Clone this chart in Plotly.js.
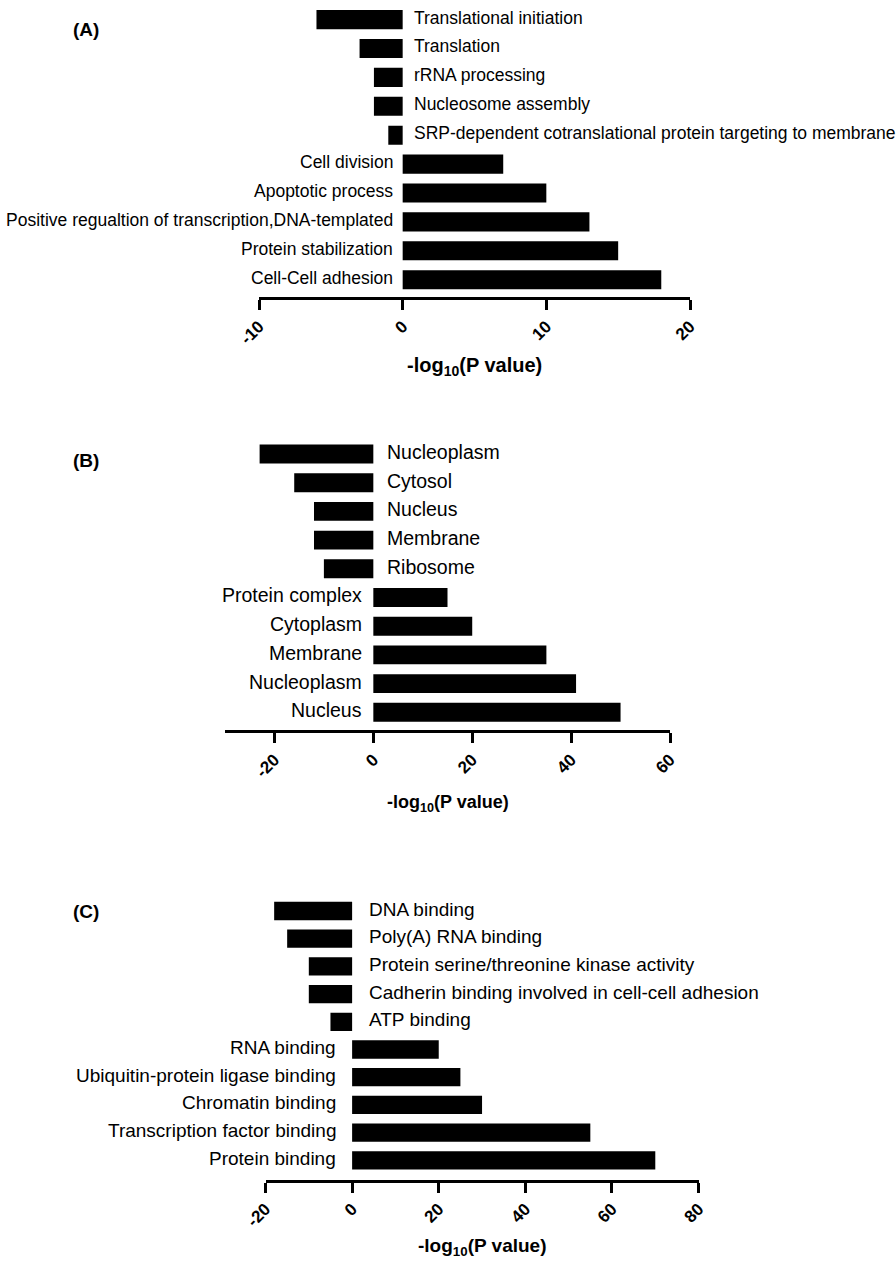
<!DOCTYPE html>
<html><head><meta charset="utf-8">
<script src="https://cdn.plot.ly/plotly-3.0.1.min.js"></script>
<style>html,body{margin:0;padding:0;background:#fff}</style>
</head><body><div id="chart" style="width:896px;height:1262px"></div>
<script>
// ---------- DATA ----------
const catsA = ["Translational initiation","Translation","rRNA processing","Nucleosome assembly",
  "SRP-dependent cotranslational protein targeting to membrane","Cell division","Apoptotic process",
  "Positive regualtion of transcription,DNA-templated","Protein stabilization","Cell-Cell adhesion"];
const valsA = [-6,-3,-2,-2,-1,7,10,13,15,18];
const ticksA = [-10,0,10,20];

const catsB = ["Nucleoplasm","Cytosol","Nucleus","Membrane","Ribosome",
  "Protein complex","Cytoplasm","Membrane","Nucleoplasm","Nucleus"];
const valsB = [-23,-16,-12,-12,-10,15,20,35,41,50];
const ticksB = [-20,0,20,40,60];

const catsC = ["DNA binding","Poly(A) RNA binding","Protein serine/threonine kinase activity",
  "Cadherin binding involved in cell-cell adhesion","ATP binding","RNA binding",
  "Ubiquitin-protein ligase binding","Chromatin binding","Transcription factor binding","Protein binding"];
const valsC = [-18,-15,-10,-10,-5,20,25,30,55,70];
const ticksC = [-20,0,20,40,60,80];

const panelLabels = ["(A)","(B)","(C)"];
const axisTitle = "-log<sub>10</sub>(P value)";

// ---------- LAYOUT (pixel targets) ----------
const W = 896, H = 1262;
const FONT = "Liberation Sans, Arial, Helvetica, sans-serif";
const panels = [
  {cats:catsA, vals:valsA, ticks:ticksA, range:[-10,20], xpx:[259,690], first:19.6, step:28.9, axisY:298.5,
   gapNeg:9, gapPos:8, fsize:17.5, titleY:367, titleSize:20, labelY:30},
  {cats:catsB, vals:valsB, ticks:ticksB, range:[-30,60], xpx:[225,670], first:454, step:28.7, axisY:731.7,
   gapNeg:12, gapPos:9.5, fsize:19.5, titleY:803, titleSize:18, labelY:460},
  {cats:catsC, vals:valsC, ticks:ticksC, range:[-20,80], xpx:[265.5,698.6], first:911, step:27.7, axisY:1181,
   gapNeg:15, gapPos:14, fsize:19, titleY:1247, titleSize:19, labelY:911}
];

const data = [];
const layout = {
  width: W, height: H, margin:{l:0,r:0,t:0,b:0,pad:0},
  paper_bgcolor:"#fff", plot_bgcolor:"rgba(0,0,0,0)",
  showlegend:false, hovermode:false,
  font:{family:FONT, color:"#000"},
  annotations:[]
};
const py = p => 1 - p / H;

panels.forEach((P, k) => {
  const sfx = k === 0 ? "" : String(k+1);
  const xa = "x"+sfx, ya = "y"+sfx;
  const idx = P.cats.map((c,i) => i);
  data.push({
    type:"bar", orientation:"h", x:P.vals, y:idx, xaxis:xa, yaxis:ya,
    width:0.66, marker:{color:"#000", line:{width:0}}
  });
  const botPx = P.axisY - 1.5;
  const topPx = P.first - 0.5*P.step;
  const yBottom = (botPx - P.first)/P.step;
  layout["xaxis"+sfx] = {
    domain:[P.xpx[0]/W, P.xpx[1]/W], range:P.range, anchor:ya,
    showgrid:false, zeroline:false, showline:true, linewidth:3, linecolor:"#000",
    ticks:"outside", ticklen:10, tickwidth:3, tickcolor:"#000",
    tickmode:"array", tickvals:P.ticks, ticktext:P.ticks.map(String), tickangle:-45,
    tickfont:{family:FONT, size:17, color:"#000", weight:"bold"}, fixedrange:true
  };
  layout["yaxis"+sfx] = {
    domain:[py(botPx), py(topPx)], range:[yBottom, -0.5], anchor:xa,
    showgrid:false, zeroline:false, showline:false, showticklabels:false, ticks:"", fixedrange:true
  };
  P.cats.forEach((c,i) => {
    const neg = P.vals[i] < 0;
    layout.annotations.push({
      xref:xa, yref:ya, x:0, y:i, text:c, showarrow:false,
      xanchor: neg ? "left" : "right", yanchor:"middle",
      xshift: neg ? P.gapNeg : -P.gapPos, yshift:2,
      font:{family:FONT, size:P.fsize, color:"#000"}
    });
  });
  layout.annotations.push({
    xref:"paper", yref:"paper", x:(P.xpx[0]+P.xpx[1])/2/W, y:py(P.titleY),
    xanchor:"center", yanchor:"middle", showarrow:false, text:"<b>"+axisTitle+"</b>",
    font:{family:FONT, size:P.titleSize, color:"#000"}
  });
  layout.annotations.push({
    xref:"paper", yref:"paper", x:86/W, y:py(P.labelY),
    xanchor:"center", yanchor:"middle", showarrow:false, text:"<b>"+panelLabels[k]+"</b>",
    font:{family:FONT, size:19, color:"#000"}
  });
});

Plotly.newPlot("chart", data, layout, {staticPlot:true, displayModeBar:false});
</script>
</body></html>
